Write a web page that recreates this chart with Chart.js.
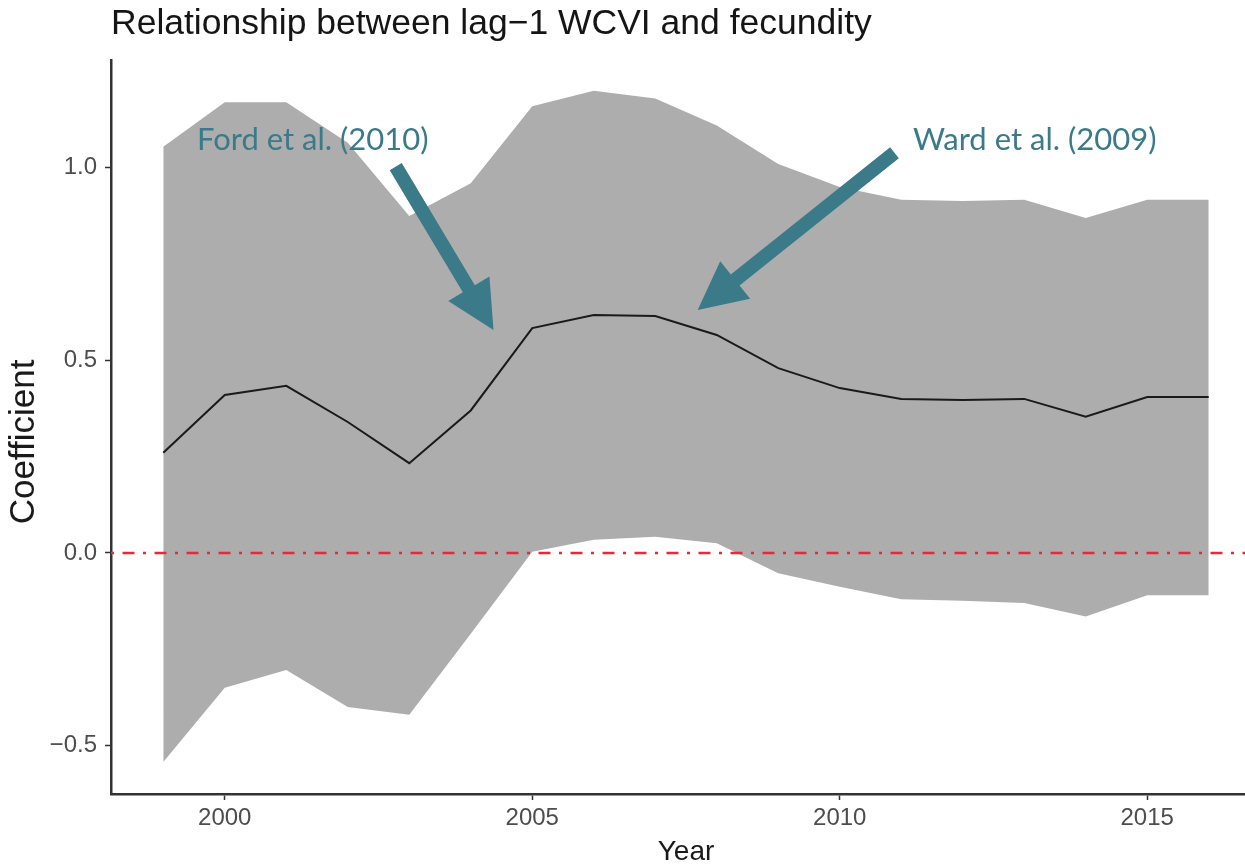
<!DOCTYPE html>
<html>
<head>
<meta charset="utf-8">
<script src="https://cdn.jsdelivr.net/npm/chart.js@4.4.1/dist/chart.umd.min.js"></script>
<style>
  html, body { margin: 0; padding: 0; background: #fff; overflow: hidden; }
  #wrap { width: 1245px; height: 865px; position: relative; }
</style>
</head>
<body>
<div id="wrap"><canvas id="chart"></canvas></div>
<script>
// dados
const years = [1999, 2000, 2001, 2002, 2003, 2004, 2005, 2006, 2007, 2008, 2009, 2010, 2011, 2012, 2013, 2014, 2015, 2016];
const coefMean = [0.26, 0.41, 0.434, 0.34, 0.233, 0.37, 0.584, 0.618, 0.615, 0.566, 0.48, 0.428, 0.40, 0.397, 0.40, 0.354, 0.405, 0.405];
const coefUpper = [1.055, 1.17, 1.17, 1.065, 0.875, 0.96, 1.16, 1.20, 1.18, 1.11, 1.01, 0.95, 0.917, 0.914, 0.917, 0.87, 0.917, 0.917];
const coefLower = [-0.543, -0.35, -0.304, -0.40, -0.42, -0.21, 0.003, 0.034, 0.042, 0.025, -0.053, -0.088, -0.12, -0.124, -0.13, -0.165, -0.11, -0.11];
const refLine = 0;

const xTicks = [2000, 2005, 2010, 2015];
const yTicks = [-0.5, 0, 0.5, 1.0];

// anotações (coordenadas em ano / coeficiente)
const noteLabels = ['Ford et al. (2010)', 'Ward et al. (2009)'];
const noteX = [2001.43, 2013.17];
const noteY = [1.073, 1.073];
const arrowFromX = [2002.78, 2010.89];
const arrowFromY = [1.003, 1.039];
const arrowToX = [2004.37, 2007.69];
const arrowToY = [0.579, 0.631];

const X_MIN = 1998.15, X_MAX = 2016.59;
const Y_MIN = -0.626, Y_MAX = 1.28;
const TEAL = '#3a7a89';

const toPts = (vals) => years.map((yr, i) => ({ x: yr, y: vals[i] }));

const annotations = {
  id: 'annotations',
  afterDatasetsDraw(chart) {
    const { ctx, scales: { x, y } } = chart;
    ctx.save();
    ctx.fillStyle = TEAL;
    for (let i = 0; i < noteLabels.length; i++) {
      // seta
      const x0 = x.getPixelForValue(arrowFromX[i]), y0 = y.getPixelForValue(arrowFromY[i]);
      const x1 = x.getPixelForValue(arrowToX[i]), y1 = y.getPixelForValue(arrowToY[i]);
      const len = Math.hypot(x1 - x0, y1 - y0);
      const ux = (x1 - x0) / len, uy = (y1 - y0) / len;
      const nx = -uy, ny = ux;
      const shaft = 7, headHalf = 24, headLen = 48;
      const bx = x1 - ux * headLen, by = y1 - uy * headLen;
      ctx.beginPath();
      ctx.moveTo(x0 + nx * shaft, y0 + ny * shaft);
      ctx.lineTo(bx + nx * shaft, by + ny * shaft);
      ctx.lineTo(bx + nx * headHalf, by + ny * headHalf);
      ctx.lineTo(x1, y1);
      ctx.lineTo(bx - nx * headHalf, by - ny * headHalf);
      ctx.lineTo(bx - nx * shaft, by - ny * shaft);
      ctx.lineTo(x0 - nx * shaft, y0 - ny * shaft);
      ctx.closePath();
      ctx.fill();

      // texto
      ctx.font = '31px Lato';
      ctx.textAlign = 'center';
      ctx.textBaseline = 'middle';
      ctx.fillText(noteLabels[i], x.getPixelForValue(noteX[i]), y.getPixelForValue(noteY[i]));
    }
    ctx.restore();
  },
  afterDraw(chart) {
    // títulos dos eixos
    const { ctx, chartArea } = chart;
    ctx.save();
    ctx.fillStyle = '#1a1a1a';
    ctx.textAlign = 'center';
    ctx.textBaseline = 'middle';
    ctx.font = '28px "Liberation Sans"';
    ctx.fillText('Year', chartArea.left + 575, chartArea.bottom + 58);
    ctx.translate(24, chartArea.top + 382);
    ctx.rotate(-Math.PI / 2);
    ctx.font = '35px "Liberation Sans"';
    ctx.fillText('Coefficient', 0, 0);
    ctx.restore();
  }
};

const ctx = document.getElementById('chart').getContext('2d');
new Chart(ctx, {
  type: 'line',
  data: {
    datasets: [
      {
        label: 'upper',
        data: toPts(coefUpper),
        borderWidth: 0,
        pointRadius: 0,
        backgroundColor: '#adadad',
        fill: 1,
        order: 3
      },
      {
        label: 'lower',
        data: toPts(coefLower),
        borderWidth: 0,
        pointRadius: 0,
        fill: false,
        order: 3
      },
      {
        label: 'zero',
        data: [{ x: X_MIN, y: refLine }, { x: X_MAX, y: refLine }],
        borderColor: 'rgb(226, 44, 56)',
        borderWidth: 2.5,
        borderDash: [12, 8.5, 3, 8.5],
        borderDashOffset: 20.5,
        pointRadius: 0,
        fill: false,
        order: 2
      },
      {
        label: 'mean',
        data: toPts(coefMean),
        borderColor: '#1a1a1a',
        borderWidth: 2,
        pointRadius: 0,
        fill: false,
        order: 1
      }
    ]
  },
  options: {
    responsive: true,
    maintainAspectRatio: false,
    animation: false,
    layout: { padding: 0 },
    plugins: {
      legend: { display: false },
      tooltip: { enabled: false },
      title: {
        display: true,
        text: 'Relationship between lag\u22121 WCVI and fecundity',
        align: 'start',
        fullSize: false,
        color: '#151515',
        font: { family: 'Liberation Sans', size: 35.5, weight: 'normal', lineHeight: 1.2 },
        padding: { top: 3, bottom: 14.4 }
      }
    },
    scales: {
      x: {
        type: 'linear',
        min: X_MIN,
        max: X_MAX,
        afterFit: (s) => { s.height = 71; },
        afterBuildTicks: (s) => { s.ticks = xTicks.map(v => ({ value: v })); },
        border: { color: '#333', width: 2.5 },
        grid: { drawOnChartArea: false, tickLength: 6, tickColor: '#333', tickWidth: 1.5 },
        ticks: {
          color: '#4d4d4d',
          padding: 4,
          font: { family: 'Liberation Sans', size: 24 },
          callback: (v) => String(v)
        }
      },
      y: {
        min: Y_MIN,
        max: Y_MAX,
        afterFit: (s) => { s.width = 111; },
        afterBuildTicks: (s) => { s.ticks = yTicks.map(v => ({ value: v })); },
        border: { color: '#333', width: 2.5 },
        grid: { drawOnChartArea: false, tickLength: 6, tickColor: '#333', tickWidth: 1.5 },
        ticks: {
          color: '#4d4d4d',
          padding: 8,
          font: { family: 'Liberation Sans', size: 24 },
          callback: (v) => v.toFixed(1).replace('-', '\u2212')
        }
      }
    }
  },
  plugins: [annotations]
});
</script>
</body>
</html>
